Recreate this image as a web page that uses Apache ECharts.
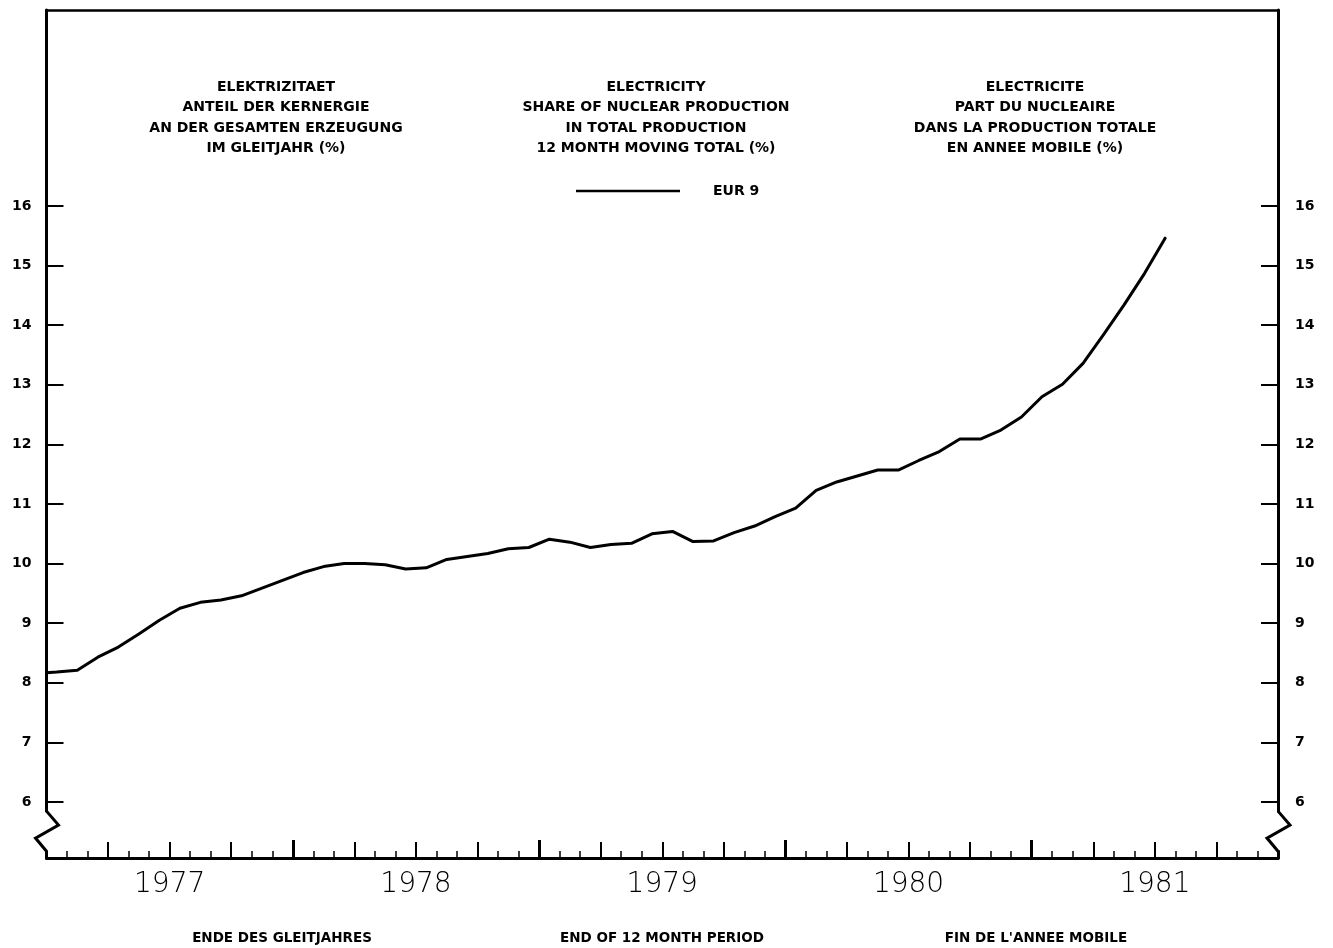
<!DOCTYPE html>
<html>
<head>
<meta charset="utf-8">
<script src="https://cdn.jsdelivr.net/npm/echarts@6/dist/echarts.min.js"></script>
<style>
  html, body { margin: 0; padding: 0; background: #fff; }
  #chart { width: 1333px; height: 948px; }
</style>
</head>
<body>
<div id="chart"></div>
<script>
// ==========================================================================
// Data: share of nuclear production, EUR 9, 12 month moving total (%)
// ==========================================================================

var years = ['1977', '1978', '1979', '1980', '1981'];
var yMin = 6;
var yMax = 16;
var monthCount = 60;

// value where the curve meets the left axis
var startValue = 8.17;

// one value per month, plotted at the middle of the month
var eur9 = [
    8.18, 8.21, 8.43, 8.60, 8.82, 9.05, 9.25, 9.35, 9.39, 9.46, 9.59, 9.72,
    9.85, 9.95, 10.00, 10.00, 9.98, 9.91, 9.93, 10.07, 10.12, 10.17, 10.25, 10.27,
    10.41, 10.36, 10.27, 10.32, 10.34, 10.50, 10.54, 10.37, 10.38, 10.52, 10.63, 10.79,
    10.93, 11.23, 11.37, 11.47, 11.57, 11.57, 11.73, 11.88, 12.09, 12.09, 12.24, 12.46,
    12.80, 13.01, 13.36, 13.84, 14.34, 14.87, 15.46
];

var titleDe = 'ELEKTRIZITAET\nANTEIL DER KERNERGIE\nAN DER GESAMTEN ERZEUGUNG\nIM GLEITJAHR (%)';
var titleEn = 'ELECTRICITY\nSHARE OF NUCLEAR PRODUCTION\nIN TOTAL PRODUCTION\n12 MONTH MOVING TOTAL (%)';
var titleFr = 'ELECTRICITE\nPART DU NUCLEAIRE\nDANS LA PRODUCTION TOTALE\nEN ANNEE MOBILE (%)';
var footDe = 'ENDE DES GLEITJAHRES';
var footEn = 'END OF 12 MONTH PERIOD';
var footFr = "FIN DE L'ANNEE MOBILE";

// ==========================================================================
// Chart
// ==========================================================================

var chart = echarts.init(document.getElementById('chart'));
var FONT = 'DejaVu Sans';

var lineData = [[0, startValue]].concat(eur9.map((v, i) => [i + 0.5, v]));

var blockStyle = {
    fontFamily: FONT,
    fontSize: 14,
    fontWeight: 'bold',
    color: '#000',
    lineHeight: 20.5
};
var footStyle = {
    fontFamily: FONT,
    fontSize: 13.5,
    fontWeight: 'bold',
    color: '#000'
};

// grid 0: the frame, month ticks and year labels
// grid 1: the plotting area between 6 and 16
function tickAxis(interval, length, width, showLine) {
    return {
        type: 'value',
        gridIndex: 0,
        position: 'bottom',
        min: 0,
        max: monthCount,
        interval: interval,
        axisLine: { show: showLine, onZero: false, lineStyle: { color: '#000', width: 3 } },
        axisTick: { show: true, inside: true, length: length, lineStyle: { color: '#000', width: width } },
        axisLabel: { show: false },
        splitLine: { show: false }
    };
}

function frameYAxis(pos) {
    return {
        type: 'value',
        gridIndex: 0,
        position: pos,
        min: 0,
        max: 1,
        axisLine: { show: true, onZero: false, lineStyle: { color: '#000', width: 3 } },
        axisTick: { show: false },
        axisLabel: { show: false },
        splitLine: { show: false }
    };
}

function dataYAxis(pos) {
    return {
        type: 'value',
        gridIndex: 1,
        position: pos,
        min: yMin,
        max: yMax,
        interval: 1,
        axisLine: { show: false },
        axisTick: {
            show: true,
            inside: true,
            length: 17,
            lineStyle: { color: '#000', width: 2 }
        },
        axisLabel: {
            margin: pos === 'left' ? 15 : 17,
            fontFamily: FONT,
            fontSize: 14,
            fontWeight: 'bold',
            color: '#000'
        },
        splitLine: { show: false }
    };
}

chart.setOption({
    animation: false,
    backgroundColor: '#fff',
    grid: [
        { left: 46.5, right: 55, top: 10, bottom: 90 },
        { left: 46.5, right: 55, top: 206, height: 596 }
    ],
    title: [
        { text: titleDe, left: 276, top: 77, padding: 0, textAlign: 'center', textVerticalAlign: 'top', textStyle: blockStyle },
        { text: titleEn, left: 656, top: 77, padding: 0, textAlign: 'center', textVerticalAlign: 'top', textStyle: blockStyle },
        { text: titleFr, left: 1035, top: 77, padding: 0, textAlign: 'center', textVerticalAlign: 'top', textStyle: blockStyle },
        { text: footDe, left: 282, top: 931, padding: 0, textAlign: 'center', textVerticalAlign: 'top', textStyle: footStyle },
        { text: footEn, left: 662, top: 931, padding: 0, textAlign: 'center', textVerticalAlign: 'top', textStyle: footStyle },
        { text: footFr, left: 1036, top: 931, padding: 0, textAlign: 'center', textVerticalAlign: 'top', textStyle: footStyle }
    ],
    legend: {
        data: [{ name: 'EUR 9', icon: 'rect' }],
        left: 576,
        top: 184,
        padding: 0,
        itemWidth: 104,
        itemHeight: 2.5,
        itemStyle: { color: '#000' },
        textStyle: {
            fontFamily: FONT,
            fontSize: 14,
            fontWeight: 'bold',
            color: '#000',
            padding: [0, 0, 0, 28]
        }
    },
    xAxis: [
        tickAxis(1, 7, 1.5, true),     // monthly ticks + base line
        tickAxis(3, 16, 2, false),     // quarter ticks
        tickAxis(12, 18, 3, false),    // year ticks
        {
            // top edge of the frame
            type: 'value',
            gridIndex: 0,
            position: 'top',
            min: 0,
            max: monthCount,
            axisLine: { show: true, onZero: false, lineStyle: { color: '#000', width: 2.5 } },
            axisTick: { show: false },
            axisLabel: { show: false },
            splitLine: { show: false }
        },
        {
            // year labels centred in each year
            type: 'category',
            gridIndex: 0,
            position: 'bottom',
            data: years,
            boundaryGap: true,
            axisLine: { show: false },
            axisTick: { show: false },
            axisLabel: {
                margin: 13,
                fontFamily: FONT,
                fontSize: 28,
                fontWeight: 200,
                color: '#000'
            },
            splitLine: { show: false }
        },
        {
            // month scale of the plotting area
            type: 'value',
            gridIndex: 1,
            min: 0,
            max: monthCount,
            show: false
        }
    ],
    yAxis: [frameYAxis('left'), frameYAxis('right'), dataYAxis('left'), dataYAxis('right')],
    series: [
        {
            name: 'EUR 9',
            type: 'line',
            xAxisIndex: 5,
            yAxisIndex: 2,
            data: lineData,
            symbol: 'none',
            smooth: false,
            clip: false,
            lineStyle: { color: '#000', width: 3, cap: 'round', join: 'round' },
            itemStyle: { color: '#000' },
            z: 3
        }
    ]
});

// ==========================================================================
// Axis breaks (zigzag) at the bottom of both vertical axes
// ==========================================================================

function drawBreaks() {
    var g = [];
    [0, monthCount].forEach(xv => {
        var p0 = chart.convertToPixel({ xAxisIndex: 5, yAxisIndex: 2 }, [xv, 5.83]);
        var p1 = chart.convertToPixel({ xAxisIndex: 5, yAxisIndex: 2 }, [xv, 5.19]);
        var x = p0[0], y0 = p0[1], y1 = p1[1], h = y1 - y0;
        g.push({
            type: 'rect',
            z: 100,
            silent: true,
            shape: { x: x - 7, y: y0, width: 14, height: h },
            style: { fill: '#fff' }
        });
        g.push({
            type: 'polyline',
            z: 101,
            silent: true,
            shape: { points: [[x, y0 - 1], [x + 12, y0 + h * 0.34], [x - 11, y0 + h * 0.68], [x, y1 + 1]] },
            style: { stroke: '#000', lineWidth: 3, fill: null, lineJoin: 'miter' }
        });
    });
    chart.setOption({ graphic: g });
}

drawBreaks();
</script>
</body>
</html>
